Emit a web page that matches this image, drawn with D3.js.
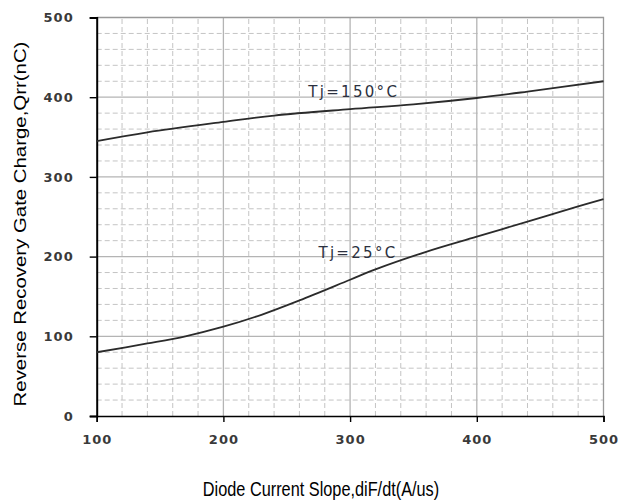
<!DOCTYPE html>
<html>
<head>
<meta charset="utf-8">
<script src="https://cdn.jsdelivr.net/npm/d3@7"></script>
<style>
  html, body { margin: 0; padding: 0; background: #fff; }
  svg { display: block; }
</style>
</head>
<body>
<svg id="chart" width="631" height="504"></svg>
<script>
// Reverse recovery charge vs. diode current slope, two junction temperatures
const slopeTicks = [100, 200, 300, 400, 500];
const chargeTicks = [0, 100, 200, 300, 400, 500];

const slope150 = [100, 140, 200, 240, 300, 350, 400, 440, 500];
const charge150 = [345, 356, 369, 377, 385, 391, 399, 407, 420];

const slope25 = [100, 140, 170, 200, 230, 260, 300, 320, 360, 400, 440, 480, 500];
const charge25 = [80, 91, 100, 112, 127, 145, 171, 184, 206, 225, 244, 263, 272];

const curveLabels = ["Tj=150°C", "Tj=25°C"];
const labelAt = [[267, 400], [275, 198]];

const xTitle = "Diode Current Slope,diF/dt(A/us)";
const yTitle = "Reverse Recovery Gate Charge,Qrr(nC)";

const svg = d3.select("#chart");
const x = d3.scaleLinear().domain([100, 500]).range([96.7, 603.5]);
const y = d3.scaleLinear().domain([0, 500]).range([416, 17.5]);

// minor grid every 20 units (dashed), major every 100 (solid)
const minorX = d3.range(120, 500, 20).filter(v => v % 100 !== 0);
const minorY = d3.range(20, 500, 20).filter(v => v % 100 !== 0);
const g = svg.append("g");

g.selectAll("line.mx").data(minorX).join("line")
  .attr("x1", d => x(d)).attr("x2", d => x(d))
  .attr("y1", y(0)).attr("y2", y(500))
  .attr("stroke", "#c4c4c4").attr("stroke-width", 1).attr("stroke-dasharray", "5,3");
g.selectAll("line.my").data(minorY).join("line")
  .attr("x1", x(100)).attr("x2", x(500))
  .attr("y1", d => y(d)).attr("y2", d => y(d))
  .attr("stroke", "#c4c4c4").attr("stroke-width", 1).attr("stroke-dasharray", "5,3");

g.selectAll("line.Mx").data(slopeTicks.slice(1, -1)).join("line")
  .attr("x1", d => x(d)).attr("x2", d => x(d))
  .attr("y1", y(0)).attr("y2", y(500))
  .attr("stroke", "#b4b4b4").attr("stroke-width", 1.3);
g.selectAll("line.My").data(chargeTicks.slice(1, -1)).join("line")
  .attr("x1", x(100)).attr("x2", x(500))
  .attr("y1", d => y(d)).attr("y2", d => y(d))
  .attr("stroke", "#b4b4b4").attr("stroke-width", 1.3);

// top and right frame
g.append("path")
  .attr("d", `M${x(100)},${y(500)}H${x(500)}V${y(0)}`)
  .attr("fill", "none").attr("stroke", "#999").attr("stroke-width", 1.3);

// axes
const tickFont = sel => sel.selectAll("text")
  .attr("font-family", "DejaVu Sans, Verdana, sans-serif")
  .attr("font-size", 13).attr("font-weight", "bold")
  .attr("letter-spacing", 1).attr("fill", "#3a3a3a");

const xAxis = svg.append("g")
  .attr("transform", `translate(0,${y(0)})`)
  .call(d3.axisBottom(x).tickValues(slopeTicks).tickSize(6).tickPadding(13).tickFormat(d3.format("d")));
xAxis.select(".domain").attr("stroke", "#000").attr("stroke-width", 1.6);
xAxis.selectAll(".tick line").attr("stroke", "#000").attr("stroke-width", 1.4);
tickFont(xAxis);

const yAxis = svg.append("g")
  .attr("transform", `translate(${x(100)},0)`)
  .call(d3.axisLeft(y).tickValues(chargeTicks).tickSize(7).tickPadding(16).tickFormat(d3.format("d")));
yAxis.select(".domain").attr("stroke", "#000").attr("stroke-width", 2);
yAxis.selectAll(".tick line").attr("stroke", "#000").attr("stroke-width", 1.4);
tickFont(yAxis);

// curves
const line = d3.line().x(d => x(d[0])).y(d => y(d[1])).curve(d3.curveCatmullRom.alpha(0.5));
const series = [d3.zip(slope150, charge150), d3.zip(slope25, charge25)];
svg.selectAll("path.curve").data(series).join("path")
  .attr("class", "curve")
  .attr("d", line)
  .attr("fill", "none").attr("stroke", "#2b2b2b").attr("stroke-width", 1.8);

svg.selectAll("text.lbl").data(curveLabels).join("text")
  .attr("class", "lbl")
  .attr("x", (d, i) => x(labelAt[i][0]))
  .attr("y", (d, i) => y(labelAt[i][1]))
  .attr("font-family", "DejaVu Sans, Verdana, sans-serif")
  .attr("font-size", 15).attr("letter-spacing", 2.3)
  .attr("fill", "#2c3140")
  .text(d => d);

// axis titles (the source sheet is drawn slightly taller than wide)
svg.append("text")
  .attr("transform", "translate(321,496) scale(1,1.2)")
  .attr("text-anchor", "middle")
  .attr("font-family", "Liberation Sans, Arial, sans-serif")
  .attr("font-size", 16.3).attr("fill", "#000")
  .text(xTitle);

svg.append("text")
  .attr("transform", "translate(26,224) rotate(-90) scale(1.2,1)")
  .attr("text-anchor", "middle")
  .attr("font-family", "Liberation Sans, Arial, sans-serif")
  .attr("font-size", 17).attr("fill", "#000")
  .text(yTitle);
</script>
</body>
</html>
